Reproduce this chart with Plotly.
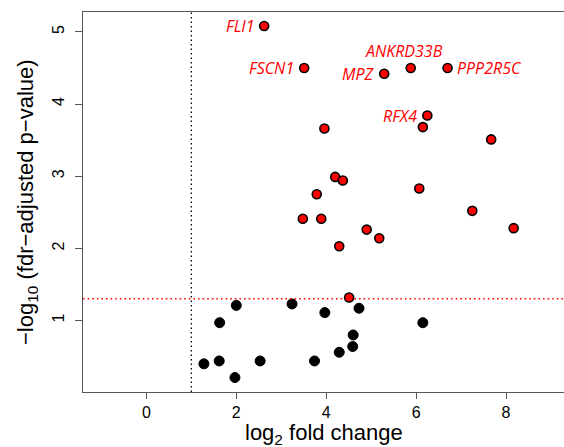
import plotly.graph_objects as go

# Significant genes (red)
sig_x = [2.62, 3.51, 5.29, 5.88, 6.70, 6.25, 3.96, 6.15, 7.67, 4.20, 4.37, 3.79, 6.07,
         3.48, 3.89, 7.25, 8.17, 4.90, 5.18, 4.29, 4.51]
sig_y = [5.08, 4.50, 4.42, 4.50, 4.50, 3.84, 3.66, 3.68, 3.51, 2.99, 2.94, 2.75, 2.83,
         2.41, 2.41, 2.52, 2.28, 2.26, 2.14, 2.03, 1.32]
# Non-significant genes (black)
ns_x = [2.00, 3.24, 3.97, 4.73, 1.63, 6.15, 4.60, 4.59, 4.29, 1.28, 1.62, 2.53, 3.74, 1.97]
ns_y = [1.21, 1.23, 1.11, 1.17, 0.97, 0.97, 0.80, 0.64, 0.56, 0.40, 0.44, 0.44, 0.44, 0.21]

# Labelled genes
label_names = ["FLI1", "FSCN1", "MPZ", "ANKRD33B", "PPP2R5C", "RFX4"]
label_x = [2.62, 3.51, 5.29, 5.88, 6.70, 6.25]
label_y = [5.08, 4.50, 4.42, 4.50, 4.50, 3.84]
label_side = ["left", "left", "left", "top", "right", "left"]

fc_cut = 1.0
p_cut = 1.30103

fig = go.Figure()
fig.add_trace(go.Scatter(x=ns_x, y=ns_y, mode="markers",
                         marker=dict(color="black", size=10, line=dict(color="black", width=1)),
                         showlegend=False))
fig.add_trace(go.Scatter(x=sig_x, y=sig_y, mode="markers",
                         marker=dict(color="#ff0000", size=9, line=dict(color="black", width=1.6)),
                         showlegend=False))

for n, x, y, s in zip(label_names, label_x, label_y, label_side):
    if s == "left":
        a = dict(xanchor="right", yanchor="middle", xshift=-8, yshift=0)
    elif s == "right":
        a = dict(xanchor="left", yanchor="middle", xshift=7, yshift=0)
    else:
        a = dict(xanchor="center", yanchor="bottom", xshift=-7, yshift=4)
    fig.add_annotation(x=x, y=y, text=n, showarrow=False,
                       font=dict(family="Open Sans", size=16, color="#ff0000", style="italic"), **a)

fig.add_shape(type="line", xref="x", yref="paper", x0=fc_cut, x1=fc_cut, y0=0, y1=1,
              line=dict(color="black", width=1.3, dash="1.5px,3px"))
fig.add_shape(type="line", xref="paper", yref="y", x0=0, x1=1, y0=p_cut, y1=p_cut,
              line=dict(color="#ff0000", width=1.6, dash="1.6px,3px"))

# Axis titles
fig.add_annotation(xref="paper", yref="paper", x=0.5, y=0, xanchor="center", yanchor="middle",
                   yshift=-42, showarrow=False, text="log<sub>2</sub> fold change",
                   font=dict(family="Liberation Sans, Arial", size=22, color="black"))
fig.add_annotation(xref="paper", yref="paper", x=0, y=0.5, xanchor="center", yanchor="middle",
                   xshift=-56, textangle=-90, showarrow=False,
                   text="−log<sub>10</sub> (fdr−adjusted p−value)",
                   font=dict(family="Liberation Sans, Arial", size=22, color="black"))

fig.update_layout(
    width=564, height=447,
    margin=dict(l=83, r=0, t=12, b=55),
    plot_bgcolor="white", paper_bgcolor="white",
    font=dict(family="Liberation Sans, Arial", color="black"),
)
fig.update_xaxes(range=[-1.41, 9.29], tickvals=[0, 2, 4, 6, 8], showgrid=False, zeroline=False,
                 showline=True, linecolor="#555555", linewidth=1.3, mirror=True,
                 ticks="outside", ticklen=6, tickcolor="#555555", automargin=False,
                 tickfont=dict(size=16))
fig.update_yaxes(range=[0.01, 5.275], tickvals=[1, 2, 3, 4, 5], showgrid=False, zeroline=False,
                 showline=True, linecolor="#555555", linewidth=1.3, automargin=False,
                 ticks="outside", ticklen=7, tickcolor="#555555", tickangle=-90,
                 ticklabelstandoff=4, tickfont=dict(size=16))

fig.write_html("out.html", config={"displayModeBar": False},
               post_script="document.body.style.margin='0px';document.body.style.overflow='hidden';")
